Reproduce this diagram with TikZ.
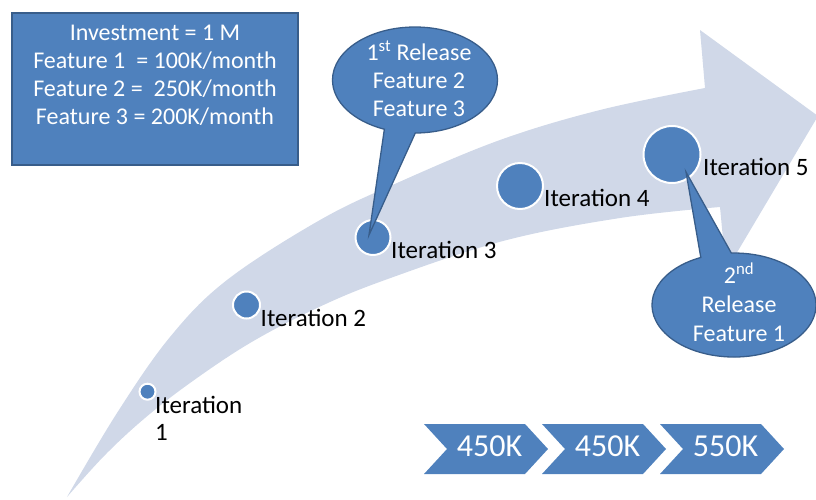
\documentclass[tikz,border=0pt]{standalone}
\usepackage{fontspec}
\setmainfont{Carlito}
\usetikzlibrary{shapes.callouts}
\definecolor{accent}{HTML}{4F81BD}
\definecolor{accentdark}{HTML}{385D8A}
\definecolor{bandcol}{HTML}{D0D8E8}
\begin{document}
\begin{tikzpicture}[x=1pt,y=-1pt,
  iter/.style={circle,fill=accent,draw=white,line width=2pt,inner sep=0pt},
  lbl/.style={font=\fontsize{25}{27}\selectfont,inner sep=0pt,anchor=base west},
  co/.style={ellipse callout,fill=accent,draw=accentdark,line width=1.3pt,callout pointer arc=22,inner sep=0pt},
  cotext/.style={text=white,align=center,inner sep=0pt,anchor=base},
  chev/.style={fill=accent},
  chevtext/.style={font=\fontsize{32}{32}\selectfont,text=white,anchor=base,inner sep=0pt}]
\useasboundingbox (0,0) rectangle (816,499);
\clip (0,0) rectangle (816,499);
% curved arrow band
\fill[bandcol] plot[smooth,tension=0.6] coordinates {(67,497) (117,413) (170,337) (227,280) (320,220) (397,183) (500,140) (600,110) (705,88)}
  -- (700,30) -- (818,116) -- (726,271) -- (720,207)
  -- plot[smooth,tension=0.6] coordinates {(720,207) (620,218) (503,241) (385,280) (317,308) (250,343) (190,383) (145,418) (105,455) (67,497)} -- cycle;
% iterations
\node[iter,minimum size=16pt] (c1) at (147.5,391.7) {};
\node[iter,minimum size=27pt] (c2) at (246.5,305) {};
\node[iter,minimum size=35pt] (c3) at (373,237.5) {};
\node[iter,minimum size=46pt] (c4) at (520,186) {};
\node[iter,minimum size=57pt] (c5) at (672,154.5) {};
\node[lbl] (l1) at (155,440) [align=left] {Iteration\\1};
\node[lbl] (l2) at (260.5,326) {Iteration 2};
\node[lbl] (l3) at (391,258) {Iteration 3};
\node[lbl] (l4) at (544,206.7) {Iteration 4};
\node[lbl] (l5) at (703,175) {Iteration 5};
% callouts
\coordinate (p1) at (369,235);
\node[co,minimum width=165pt,minimum height=106pt,callout absolute pointer={(p1)}] (r1) at (415,80) {};
\node[cotext,font=\fontsize{24}{28}\selectfont] (r1t) at (419,116.7) {1\textsuperscript{st} Release\\Feature 2\\Feature 3};
\coordinate (p2) at (686,172);
\node[co,minimum width=164pt,minimum height=104pt,callout absolute pointer={(p2)}] (r2) at (734,305) {};
\node[cotext,font=\fontsize{24}{29}\selectfont] (r2t) at (739,341.3) {2\textsuperscript{nd}\\Release\\Feature 1};
% investment box
\node[draw=accentdark,fill=accent,line width=2pt,minimum width=286pt,minimum height=152pt,inner sep=0pt] (inv) at (155,89) {};
\node[cotext,font=\fontsize{24}{28.3}\selectfont] (invt) at (155,124.9) {Investment = 1 M\\Feature 1 \ = 100K/month\\Feature 2 = \ 250K/month\\Feature 3 = 200K/month};
% chevrons
\foreach \x/\t/\n in {424/450K/a,542/450K/b,660/550K/c}{
  \fill[chev] (\x,424) -- (\x+101,424) -- (\x+124,449) -- (\x+101,474) -- (\x,474) -- (\x+23,449) -- cycle;
  \node[chevtext] (ch\n) at (\x+65.5,456.7) {\t};
}
\end{tikzpicture}
\end{document}
